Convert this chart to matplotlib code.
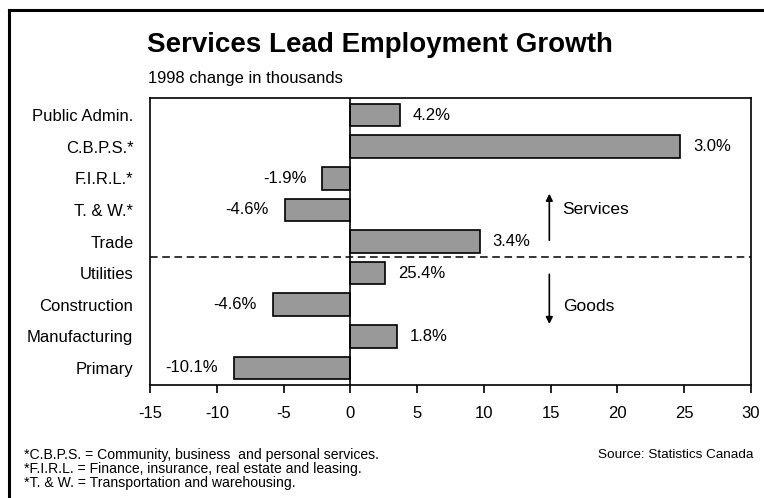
import matplotlib
matplotlib.use('Agg')
import matplotlib.pyplot as plt
from matplotlib.lines import Line2D

plt.rcParams['font.family'] = ['Liberation Sans', 'DejaVu Sans']

categories = ['Public Admin.', 'C.B.P.S.*', 'F.I.R.L.*', 'T. & W.*', 'Trade',
              'Utilities', 'Construction', 'Manufacturing', 'Primary']
change_thousands = [3.7, 24.7, -2.1, -4.9, 9.7, 2.6, -5.8, 3.5, -8.7]
pct_labels = ['4.2%', '3.0%', '-1.9%', '-4.6%', '3.4%', '25.4%', '-4.6%', '1.8%', '-10.1%']
xticks = [-15, -10, -5, 0, 5, 10, 15, 20, 25, 30]

fig = plt.figure(figsize=(7.64, 4.98), dpi=100)
W, H = 764, 498
ax = fig.add_axes([150 / W, 1 - 385 / H, 601 / W, 287 / H])

ypos = list(range(len(categories)))
ax.barh(ypos, change_thousands, height=0.72, color='#999999', edgecolor='black', linewidth=1.2)

for y, v, lab in zip(ypos, change_thousands, pct_labels):
    if v >= 0:
        ax.text(v + 0.95, y, lab, ha='left', va='center', fontsize=12)
    else:
        ax.text(v - 1.2, y, lab, ha='right', va='center', fontsize=12)

ax.set_xlim(-15, 30)
ax.set_ylim(8.54, -0.54)
ax.set_yticks(ypos)
ax.set_yticklabels(categories, fontsize=12)
ax.tick_params(axis='y', length=0, pad=12)
ax.set_xticks(xticks)
ax.set_xticklabels([str(t) for t in xticks], fontsize=12)
ax.tick_params(axis='x', length=6, width=1.2, direction='out', pad=9)
for s in ax.spines.values():
    s.set_linewidth(1.2)

ax.axvline(0, color='black', linewidth=1.2)
ax.axhline(4.5, color='black', linewidth=1.1, linestyle=(0, (5, 3)))

# services / goods arrows
ax.annotate('', xy=(14.9, 2.4), xytext=(14.9, 4.05),
            arrowprops=dict(arrowstyle='-|>', color='black', lw=1.2, mutation_scale=10))
ax.annotate('', xy=(14.9, 6.7), xytext=(14.9, 4.95),
            arrowprops=dict(arrowstyle='-|>', color='black', lw=1.2, mutation_scale=10))
ax.text(15.9, 3.0, 'Services', ha='left', va='center', fontsize=12.5)
ax.text(15.9, 6.05, 'Goods', ha='left', va='center', fontsize=12.5)

fig.text(380 / W, 1 - 45 / H, 'Services Lead Employment Growth', ha='center', va='center',
         fontsize=20, fontweight='bold')
fig.text(148 / W, 1 - 78 / H, '1998 change in thousands', ha='left', va='center', fontsize=11.9)

fig.text(24 / W, 1 - 455 / H, '*C.B.P.S. = Community, business  and personal services.',
         ha='left', va='center', fontsize=10.1)
fig.text(24 / W, 1 - 469 / H, '*F.I.R.L. = Finance, insurance, real estate and leasing.',
         ha='left', va='center', fontsize=10.1)
fig.text(24 / W, 1 - 483 / H, '*T. & W. = Transportation and warehousing.',
         ha='left', va='center', fontsize=10.1)
fig.text(753 / W, 1 - 455 / H, 'Source: Statistics Canada', ha='right', va='center', fontsize=9.7)

# outer frame, left and top only
fig.add_artist(Line2D([9 / W, 9 / W], [0, 1 - 10 / H], transform=fig.transFigure, color='black', lw=2.2))
fig.add_artist(Line2D([9 / W, 1], [1 - 10 / H, 1 - 10 / H], transform=fig.transFigure, color='black', lw=2.2))

fig.savefig('out.png', dpi=100)
